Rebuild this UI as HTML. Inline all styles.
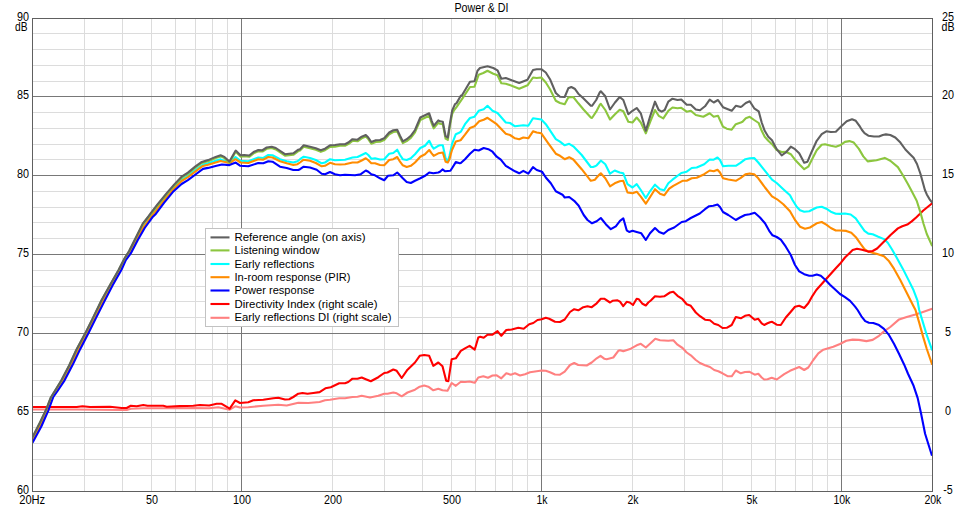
<!DOCTYPE html>
<html><head><meta charset="utf-8"><title>Power &amp; DI</title>
<style>
html,body{margin:0;padding:0;background:#fff;overflow:hidden}
body{width:960px;height:509px;font-family:"Liberation Sans",sans-serif}
svg{display:block}
</style></head><body>
<svg width="960" height="509" viewBox="0 0 960 509">
<rect x="0" y="0" width="960" height="509" fill="#fff"/>
<g stroke="#dcdcdc" stroke-width="1" shape-rendering="crispEdges">
<line x1="32.5" x2="932.5" y1="475.5" y2="475.5"/>
<line x1="32.5" x2="932.5" y1="459.5" y2="459.5"/>
<line x1="32.5" x2="932.5" y1="443.5" y2="443.5"/>
<line x1="32.5" x2="932.5" y1="427.5" y2="427.5"/>
<line x1="32.5" x2="932.5" y1="396.5" y2="396.5"/>
<line x1="32.5" x2="932.5" y1="380.5" y2="380.5"/>
<line x1="32.5" x2="932.5" y1="364.5" y2="364.5"/>
<line x1="32.5" x2="932.5" y1="349.5" y2="349.5"/>
<line x1="32.5" x2="932.5" y1="317.5" y2="317.5"/>
<line x1="32.5" x2="932.5" y1="301.5" y2="301.5"/>
<line x1="32.5" x2="932.5" y1="286.5" y2="286.5"/>
<line x1="32.5" x2="932.5" y1="270.5" y2="270.5"/>
<line x1="32.5" x2="932.5" y1="238.5" y2="238.5"/>
<line x1="32.5" x2="932.5" y1="222.5" y2="222.5"/>
<line x1="32.5" x2="932.5" y1="207.5" y2="207.5"/>
<line x1="32.5" x2="932.5" y1="191.5" y2="191.5"/>
<line x1="32.5" x2="932.5" y1="159.5" y2="159.5"/>
<line x1="32.5" x2="932.5" y1="144.5" y2="144.5"/>
<line x1="32.5" x2="932.5" y1="128.5" y2="128.5"/>
<line x1="32.5" x2="932.5" y1="112.5" y2="112.5"/>
<line x1="32.5" x2="932.5" y1="81.5" y2="81.5"/>
<line x1="32.5" x2="932.5" y1="65.5" y2="65.5"/>
<line x1="32.5" x2="932.5" y1="49.5" y2="49.5"/>
<line x1="32.5" x2="932.5" y1="33.5" y2="33.5"/>
<line x1="84.5" x2="84.5" y1="18.5" y2="491.5"/>
<line x1="122.5" x2="122.5" y1="18.5" y2="491.5"/>
<line x1="151.5" x2="151.5" y1="18.5" y2="491.5"/>
<line x1="175.5" x2="175.5" y1="18.5" y2="491.5"/>
<line x1="195.5" x2="195.5" y1="18.5" y2="491.5"/>
<line x1="212.5" x2="212.5" y1="18.5" y2="491.5"/>
<line x1="227.5" x2="227.5" y1="18.5" y2="491.5"/>
<line x1="332.5" x2="332.5" y1="18.5" y2="491.5"/>
<line x1="384.5" x2="384.5" y1="18.5" y2="491.5"/>
<line x1="422.5" x2="422.5" y1="18.5" y2="491.5"/>
<line x1="451.5" x2="451.5" y1="18.5" y2="491.5"/>
<line x1="475.5" x2="475.5" y1="18.5" y2="491.5"/>
<line x1="495.5" x2="495.5" y1="18.5" y2="491.5"/>
<line x1="512.5" x2="512.5" y1="18.5" y2="491.5"/>
<line x1="527.5" x2="527.5" y1="18.5" y2="491.5"/>
<line x1="632.5" x2="632.5" y1="18.5" y2="491.5"/>
<line x1="684.5" x2="684.5" y1="18.5" y2="491.5"/>
<line x1="722.5" x2="722.5" y1="18.5" y2="491.5"/>
<line x1="751.5" x2="751.5" y1="18.5" y2="491.5"/>
<line x1="775.5" x2="775.5" y1="18.5" y2="491.5"/>
<line x1="795.5" x2="795.5" y1="18.5" y2="491.5"/>
<line x1="812.5" x2="812.5" y1="18.5" y2="491.5"/>
<line x1="827.5" x2="827.5" y1="18.5" y2="491.5"/>
</g>
<g stroke="#787878" stroke-width="1" shape-rendering="crispEdges">
<line x1="32.5" x2="932.5" y1="412.5" y2="412.5"/>
<line x1="32.5" x2="932.5" y1="333.5" y2="333.5"/>
<line x1="32.5" x2="932.5" y1="254.5" y2="254.5"/>
<line x1="32.5" x2="932.5" y1="175.5" y2="175.5"/>
<line x1="32.5" x2="932.5" y1="96.5" y2="96.5"/>
<line x1="241.5" x2="241.5" y1="18.5" y2="491.5"/>
<line x1="541.5" x2="541.5" y1="18.5" y2="491.5"/>
<line x1="841.5" x2="841.5" y1="18.5" y2="491.5"/>
</g>
<clipPath id="cp"><rect x="32" y="18" width="901" height="474"/></clipPath>
<g fill="none" stroke-width="2.1" stroke-linejoin="round" stroke-linecap="butt" clip-path="url(#cp)">
<polyline stroke="#ff8080" points="32.5,409.5 76.7,409.5 121.7,410.0 126.7,410.0 130.8,408.7 143.3,408.3 179.7,408.3 193.3,408.0 209.2,408.3 218.3,407.2 229.7,409.7 235.3,406.3 240.0,407.5 248.3,407.2 263.3,405.8 278.3,404.7 286.7,405.5 298.3,402.8 308.3,403.0 319.6,402.0 325.0,400.3 330.0,399.7 339.2,398.3 345.0,398.3 352.5,397.0 357.5,396.7 361.7,395.8 370.0,397.5 378.3,395.8 384.2,393.7 387.5,393.7 393.3,392.5 396.7,393.3 401.7,396.3 407.5,392.5 415.0,389.7 419.7,386.7 424.2,385.5 428.3,386.7 433.3,390.3 438.3,388.7 442.5,390.3 447.5,390.8 451.7,383.0 455.8,385.8 460.8,381.7 465.0,382.0 469.6,381.5 474.7,382.8 478.3,377.5 483.3,376.2 488.0,377.8 492.5,375.5 496.7,375.3 501.3,378.3 506.3,373.3 510.8,374.7 515.0,373.3 520.0,375.5 525.0,374.2 530.0,372.2 536.7,371.2 541.7,370.5 545.8,370.8 550.0,372.2 555.0,374.5 560.0,374.7 564.7,371.7 570.0,365.0 574.2,363.0 578.3,365.0 586.7,365.5 591.7,362.5 596.7,358.3 600.5,355.8 604.2,358.7 606.7,359.2 613.3,357.5 618.3,350.8 620.0,350.2 623.3,351.2 630.8,348.7 636.7,345.3 640.8,343.8 645.8,347.5 650.8,343.0 655.3,338.8 660.0,340.3 668.3,340.8 673.3,340.3 677.5,344.7 682.5,348.0 686.7,352.5 690.8,355.3 695.8,360.0 700.0,363.0 705.0,365.3 710.0,367.0 714.2,370.0 718.3,371.2 722.5,373.3 727.5,376.2 731.7,376.3 735.8,370.5 740.8,373.3 745.0,372.0 749.2,371.7 754.7,374.7 758.3,373.7 761.7,377.5 764.2,379.5 767.5,379.2 771.7,377.8 776.7,379.5 784.2,374.2 790.0,370.8 799.2,367.0 804.2,370.0 808.3,367.5 813.3,360.0 818.3,353.3 823.3,349.7 833.3,346.7 840.0,344.0 846.3,340.8 852.6,339.6 858.9,339.9 866.4,341.1 872.7,339.9 879.0,335.8 884.0,331.4 890.3,327.0 899.1,319.4 906.7,316.9 915.5,314.4 923.0,311.9 932.2,308.7"/>
<polyline stroke="#00ffff" points="32.5,439.6 40.1,424.9 41.3,422.5 46.4,411.4 48.2,407.0 50.8,400.1 53.3,394.9 54.5,393.1 57.2,389.0 61.4,382.3 64.6,376.8 69.0,368.4 72.8,360.5 76.5,352.6 80.3,345.2 85.8,334.8 88.9,328.7 92.7,321.0 95.8,314.7 101.5,303.1 104.0,298.4 110.3,286.8 112.8,282.2 118.7,271.9 121.5,266.6 124.6,260.1 125.8,257.9 129.0,253.2 130.9,249.9 135.3,241.3 137.8,236.3 142.8,226.8 144.7,224.0 148.0,219.7 150.2,216.6 152.9,213.0 155.8,209.6 157.7,207.1 164.0,199.1 166.5,196.1 172.8,188.6 174.1,187.3 181.6,179.7 187.9,175.8 195.5,169.8 201.8,165.3 203.0,164.6 208.1,163.3 215.6,160.8 220.6,159.3 221.7,160.0 229.7,162.0 235.5,157.0 240.5,160.8 248.3,161.2 258.3,157.5 263.3,158.0 268.3,155.0 272.5,155.3 280.0,159.2 286.7,161.2 293.3,162.5 297.5,161.2 300.0,159.2 303.7,156.7 310.0,158.0 315.8,160.0 321.7,163.3 325.0,162.5 330.0,159.2 335.0,160.3 345.0,159.7 352.5,157.5 357.5,157.0 361.7,155.0 365.8,153.0 368.3,155.0 371.3,158.7 375.0,158.3 380.0,159.5 384.2,159.2 389.2,153.7 393.3,153.0 397.2,149.7 400.0,155.0 402.8,159.2 406.7,160.0 410.8,158.3 415.0,154.2 420.3,148.0 425.0,145.8 429.2,140.8 431.7,145.8 433.7,148.7 438.3,145.8 440.0,145.3 442.8,145.2 445.6,158.3 447.8,161.2 449.5,155.8 450.8,150.0 452.0,144.2 455.8,134.2 459.7,132.5 460.8,131.7 465.0,124.2 470.0,118.0 474.5,116.7 478.7,110.8 483.7,109.2 487.5,105.8 492.5,110.8 497.5,113.0 505.8,122.5 510.0,123.0 515.0,126.3 523.3,125.3 528.3,125.8 533.0,118.3 541.3,119.5 545.8,124.2 555.8,139.2 560.0,141.7 564.7,145.3 569.2,143.8 573.3,146.3 581.7,155.0 590.8,167.0 593.0,167.0 595.0,166.3 596.7,165.3 599.7,162.0 600.8,160.5 605.3,164.2 610.0,173.7 614.7,170.5 619.7,172.5 623.3,173.3 627.5,184.2 632.5,187.5 636.7,184.2 640.8,190.0 645.8,198.0 650.3,190.8 655.0,184.7 660.0,189.2 664.2,190.3 668.3,183.3 672.5,179.7 681.3,173.0 686.7,171.7 691.7,168.0 696.7,167.5 704.2,164.2 709.7,159.5 713.7,159.7 717.5,157.5 720.0,160.0 723.0,166.3 728.3,165.8 735.8,165.8 740.4,162.9 745.4,159.2 749.7,158.2 754.2,158.0 758.3,162.5 765.0,170.8 772.0,179.7 776.7,183.0 783.3,189.2 790.0,195.3 792.5,200.0 796.7,206.7 800.0,210.3 804.2,211.7 809.2,211.3 816.7,207.5 821.7,206.7 826.3,208.7 830.8,211.7 835.8,213.7 840.0,213.9 845.0,213.5 850.7,214.5 855.7,218.3 860.1,224.6 864.5,230.9 868.3,233.6 872.7,234.3 877.7,236.5 884.0,239.1 887.8,242.8 891.9,249.2 896.6,257.5 902.9,268.9 909.2,281.4 913.6,290.3 917.4,300.3 919.2,310.0 923.0,322.6 926.8,335.2 932.2,350.3"/>
<polyline stroke="#ff8c00" points="32.5,440.6 40.1,426.1 41.3,423.7 46.4,412.5 48.2,408.2 50.8,401.2 53.3,395.5 54.5,393.7 57.2,389.7 61.4,383.2 64.6,377.9 69.0,369.4 72.8,361.8 76.5,353.9 80.3,346.3 85.8,335.9 88.9,329.8 92.7,322.1 95.8,315.8 101.5,304.3 104.0,299.6 110.3,287.8 112.8,283.1 118.7,272.8 121.5,267.6 124.6,261.0 125.8,258.6 129.0,254.0 130.9,250.9 135.3,242.3 137.8,237.5 142.8,228.2 144.7,225.3 148.0,220.9 150.2,217.8 152.9,214.2 155.8,211.0 157.7,208.4 164.0,200.3 166.5,197.2 172.8,189.7 174.1,188.4 181.6,181.0 187.9,177.2 195.5,171.3 201.8,166.7 203.0,165.9 208.1,164.7 215.6,162.4 220.6,161.0 221.7,161.3 229.7,163.0 235.5,159.2 240.5,162.5 248.3,163.0 258.3,159.2 263.3,159.7 268.3,157.0 272.5,157.5 280.0,161.3 286.7,163.3 293.3,165.0 297.5,164.2 300.0,162.5 303.7,159.7 310.0,160.8 315.8,163.0 321.7,166.3 325.0,165.8 330.0,162.8 335.0,164.2 340.0,164.5 345.0,164.2 352.5,162.5 357.5,162.5 361.7,160.5 365.8,158.3 368.3,160.3 371.3,163.3 375.0,163.3 380.0,165.0 384.2,165.3 389.2,160.0 393.3,159.2 397.2,157.0 400.0,161.7 402.8,165.3 406.7,167.0 410.8,165.8 415.0,162.5 420.3,156.7 425.0,154.2 429.2,150.0 431.7,153.3 433.7,155.8 438.3,153.3 440.0,153.0 442.8,152.5 445.6,161.8 447.8,162.5 449.5,159.2 450.8,154.2 452.0,150.0 455.8,141.5 459.7,140.5 460.8,140.0 465.0,134.7 470.0,128.0 474.5,126.3 479.2,121.3 483.7,119.7 487.5,117.8 496.7,124.2 505.8,133.7 510.0,135.0 515.0,138.3 519.2,139.2 523.3,137.5 528.3,138.3 533.0,131.3 536.7,132.5 541.3,133.3 548.3,143.3 555.8,153.7 560.0,155.8 564.7,159.2 569.2,157.2 573.3,159.5 581.7,169.2 590.8,180.8 593.0,180.3 595.0,179.7 596.7,177.5 599.7,174.2 600.8,173.3 605.3,178.3 610.0,186.3 614.7,183.3 619.7,181.3 623.3,180.8 627.5,192.5 632.5,193.3 636.7,191.7 640.8,196.7 645.8,203.7 650.3,196.7 655.0,189.2 660.0,193.8 664.2,195.3 669.2,188.7 673.3,185.8 682.5,180.8 686.7,180.8 691.7,178.3 696.7,177.8 704.2,174.2 709.7,170.5 713.7,171.2 717.5,169.7 720.0,172.5 723.0,178.3 728.3,179.5 735.8,180.8 740.4,178.2 745.4,174.4 749.7,173.5 754.2,174.2 758.3,178.3 765.0,187.5 772.0,196.3 777.1,199.3 783.3,204.2 790.0,211.3 795.0,220.0 800.0,226.7 805.0,228.7 810.0,227.5 816.7,223.3 821.7,222.0 826.3,224.7 830.8,228.0 835.8,230.5 840.0,230.5 846.3,230.9 851.3,232.8 856.4,237.8 860.8,244.1 864.5,249.1 868.3,251.6 873.3,253.0 876.5,253.8 884.0,256.3 889.1,261.3 894.1,268.9 900.4,280.2 906.7,292.8 913.0,305.3 915.5,310.0 919.2,322.6 923.0,336.4 926.8,349.0 932.2,364.7"/>
<polyline stroke="#ff0000" points="32.5,407.0 76.7,407.0 82.5,406.2 90.0,407.0 110.0,406.7 121.7,408.0 126.7,408.0 130.8,405.8 136.7,406.2 143.3,405.0 147.5,405.8 163.3,405.8 166.7,406.7 179.8,406.1 193.3,405.8 200.0,405.0 209.2,405.5 216.7,403.8 221.7,403.8 229.7,408.7 235.3,400.3 240.0,403.0 248.3,402.2 253.3,400.3 263.3,399.7 273.3,398.3 278.3,397.8 285.0,399.5 289.2,399.2 293.3,397.0 298.3,393.7 302.5,393.0 307.5,393.8 313.3,393.0 319.6,392.1 325.4,388.3 330.8,387.2 339.2,383.3 345.0,383.3 348.3,382.0 352.5,378.7 357.5,378.8 361.7,377.5 365.8,379.2 370.8,381.2 378.3,377.2 384.2,373.0 387.5,372.5 393.3,369.5 396.7,370.8 401.7,378.0 407.5,369.7 415.0,362.5 419.7,355.8 424.2,355.0 429.2,355.8 433.3,365.8 438.3,362.5 442.5,366.3 446.2,380.8 448.3,381.3 451.7,359.2 455.8,358.3 460.8,350.8 465.0,348.3 469.6,345.8 474.7,349.7 478.3,337.5 480.3,336.7 483.7,337.8 487.5,334.7 492.5,334.7 497.5,331.2 501.3,335.8 506.3,330.0 511.7,329.5 518.3,327.8 523.7,328.8 529.2,324.2 533.3,323.0 537.5,320.0 541.7,319.2 545.8,317.8 549.2,318.7 555.0,321.7 560.0,322.0 564.7,319.5 570.0,312.0 574.2,309.2 578.3,310.3 583.3,307.2 587.5,306.2 591.7,307.2 596.7,303.3 600.8,298.7 604.2,298.7 610.0,302.5 612.5,300.8 617.5,300.3 620.0,301.7 623.2,306.2 626.7,301.8 629.7,302.5 633.0,305.0 636.7,298.7 638.7,299.2 642.5,303.8 645.8,305.5 648.3,302.5 650.8,300.5 655.0,296.2 660.0,296.7 664.2,296.3 670.0,292.5 673.3,291.7 677.5,295.8 682.5,299.2 686.7,304.2 690.8,305.8 695.8,312.5 700.0,316.2 705.0,319.7 710.0,320.3 714.2,323.7 718.3,325.0 722.5,328.0 726.7,327.8 731.7,325.0 735.8,317.0 740.8,318.3 745.0,315.8 749.2,315.0 754.7,319.7 758.3,318.8 761.7,323.3 764.2,325.0 767.5,323.3 770.0,322.2 772.1,321.8 776.7,324.7 780.8,325.0 785.8,317.5 790.8,311.7 795.0,306.7 799.2,305.8 804.2,308.0 808.3,303.3 812.5,295.8 816.3,290.0 835.8,268.3 840.0,263.8 845.0,257.5 850.7,251.9 852.6,250.1 857.0,248.7 862.0,249.7 868.3,251.6 872.7,251.0 877.1,248.5 882.8,242.8 890.3,235.3 897.9,228.4 902.3,226.2 907.3,224.6 911.7,221.4 916.7,217.0 923.0,210.8 932.2,203.2"/>
<polyline stroke="#0000ff" points="32.5,442.8 41.3,426.5 48.2,410.8 53.3,396.9 57.2,391.5 64.6,380.3 72.8,364.6 80.3,348.9 88.9,332.3 95.8,318.4 104.0,302.1 112.8,285.1 121.5,269.8 125.8,260.1 130.9,253.2 137.8,240.0 144.7,228.0 152.9,216.7 155.8,213.9 164.0,202.8 172.8,192.1 181.6,184.0 187.9,180.2 195.5,174.5 203.0,168.9 208.1,167.9 215.6,166.1 221.9,164.5 229.4,165.1 235.7,162.6 240.0,165.7 248.3,166.2 258.3,163.0 263.3,163.3 268.3,161.2 272.5,161.7 280.0,166.7 286.7,168.0 293.3,170.0 298.3,170.0 300.0,169.2 303.7,166.7 310.0,167.5 316.7,169.7 321.7,173.7 325.0,174.2 330.0,172.0 335.0,174.2 340.0,175.3 345.0,174.7 350.0,175.0 355.0,175.3 360.8,174.2 365.8,170.5 368.3,171.7 371.3,174.2 375.0,175.3 380.0,178.3 384.2,180.3 388.0,175.8 393.3,175.3 397.2,172.5 400.0,175.3 402.8,178.3 406.7,182.0 410.8,183.0 415.0,180.8 420.3,178.3 425.0,175.8 429.2,172.5 433.3,173.3 438.3,172.5 440.0,171.7 442.5,169.4 445.2,171.3 450.4,170.8 452.5,167.5 455.8,162.1 459.7,163.3 460.8,163.0 465.0,159.2 470.0,153.7 474.5,149.7 478.7,150.5 483.7,148.0 488.3,149.2 492.5,151.7 496.7,156.7 500.8,159.7 505.8,165.8 510.0,168.3 515.0,171.3 519.2,173.3 523.3,170.8 528.3,173.7 533.0,167.2 536.7,170.0 542.0,171.7 545.8,177.5 550.8,183.3 555.8,191.3 562.5,194.7 564.7,197.5 569.2,197.0 574.2,200.8 578.7,205.8 583.7,215.0 587.5,220.0 592.0,223.3 596.7,221.3 600.8,218.0 605.8,224.2 610.8,229.2 615.8,226.3 620.0,220.8 623.3,218.3 626.7,230.3 629.2,232.0 632.5,230.8 636.7,232.0 641.3,233.3 645.8,240.0 650.0,233.3 655.0,228.0 659.2,232.0 663.7,233.8 668.3,230.0 674.2,227.5 681.7,222.0 685.8,221.2 690.8,218.0 699.8,213.5 705.0,209.2 709.2,206.2 713.3,205.8 717.5,204.5 720.0,207.0 723.0,212.0 728.3,215.0 735.8,220.0 740.0,217.5 745.0,215.0 749.7,214.2 754.7,212.8 760.0,217.5 765.0,223.3 769.2,230.8 772.5,235.3 776.7,237.0 780.8,239.7 785.8,246.7 790.8,255.0 795.0,265.0 799.2,271.3 804.2,274.2 809.2,275.8 812.5,275.8 816.7,274.5 820.8,275.8 825.8,280.3 830.0,284.7 840.0,294.0 845.0,297.2 850.1,300.9 855.1,306.6 857.6,310.0 861.4,316.3 865.2,321.1 868.9,322.8 873.3,323.0 879.0,325.1 884.0,328.9 889.1,335.2 894.1,344.0 899.1,354.0 904.2,364.7 907.9,373.5 913.6,385.8 917.7,398.1 920.9,412.8 925.1,433.7 932.0,455.8"/>
<polyline stroke="#8cc63f" points="32.5,437.5 40.1,422.4 46.4,409.2 50.8,397.8 54.5,391.8 61.4,380.6 69.0,366.1 76.5,349.8 85.8,332.6 92.7,318.7 101.5,300.5 110.3,284.8 118.7,270.1 124.6,258.5 129.0,251.6 135.3,239.0 142.8,223.9 148.0,217.3 150.2,214.8 157.7,205.0 166.5,194.4 174.1,185.6 181.6,177.7 187.9,173.7 195.5,167.4 201.8,163.0 208.1,161.2 215.6,158.0 220.6,156.4 224.4,158.1 229.4,162.8 235.7,151.8 240.5,156.6 244.2,156.2 249.2,156.8 254.2,152.9 258.3,151.3 262.5,151.5 266.7,148.8 271.7,148.0 275.8,149.4 285.0,155.6 293.3,154.8 298.3,151.1 300.0,150.6 303.7,146.8 310.0,148.2 315.8,149.8 320.8,151.9 325.0,150.2 330.0,146.9 335.0,146.6 340.0,145.8 345.0,145.8 348.3,144.1 352.5,140.8 357.5,141.3 361.7,138.3 365.8,136.6 368.3,139.1 371.3,143.7 375.8,142.0 380.0,141.7 384.2,140.0 389.2,134.2 393.3,132.0 397.2,131.4 400.0,137.5 402.8,143.1 406.7,141.1 410.8,138.0 415.0,132.3 420.3,120.0 425.0,117.8 429.2,115.8 431.7,123.3 433.7,128.3 438.3,122.8 440.0,123.8 442.8,124.3 445.6,138.7 447.8,139.9 449.8,126.6 452.2,113.7 454.2,110.0 456.5,107.2 462.5,98.3 470.0,87.0 474.5,86.7 478.7,74.7 483.3,73.0 487.5,70.8 493.3,73.7 497.5,75.3 501.3,83.3 505.8,83.7 511.7,85.8 519.2,88.7 527.5,85.3 533.0,77.5 536.7,78.0 541.3,77.5 545.8,82.5 550.0,89.2 555.8,100.8 560.0,103.0 564.7,104.2 568.3,97.5 573.3,97.0 578.3,103.3 583.3,109.2 590.8,117.5 592.0,118.0 596.2,111.7 599.7,105.0 600.8,103.8 605.3,110.0 610.0,119.5 615.0,114.2 619.7,109.7 623.3,111.3 628.3,121.7 632.5,122.5 636.7,117.5 640.8,122.5 645.8,133.3 650.3,121.7 655.0,110.0 658.7,115.8 663.3,118.3 668.3,110.8 672.5,107.5 677.5,108.3 681.3,107.8 686.7,111.7 690.8,110.8 695.8,115.0 703.3,116.7 709.7,113.3 713.7,116.7 718.0,115.8 723.0,126.7 726.7,128.7 731.7,129.7 735.8,124.2 740.8,122.5 742.5,121.7 745.8,118.2 749.7,116.8 754.2,120.0 758.7,123.0 761.7,130.8 764.7,136.7 768.3,140.8 772.0,144.2 776.7,150.0 781.7,152.0 785.8,151.7 790.8,154.2 795.0,159.7 800.0,165.0 804.2,169.2 808.3,166.7 811.7,160.0 816.7,150.3 821.7,144.7 825.0,144.2 830.8,145.8 835.8,146.7 840.0,145.3 845.0,141.9 849.4,141.1 853.8,142.6 858.9,148.9 863.3,156.4 867.7,161.4 876.5,160.2 884.7,157.9 890.3,160.8 897.9,167.1 902.9,175.3 907.9,184.1 911.1,190.0 916.7,200.7 920.5,212.6 923.6,224.0 926.8,234.0 932.2,246.0"/>
<polyline stroke="#606060" points="32.5,437.2 40.1,422.1 46.4,408.9 50.8,397.5 54.5,391.5 61.4,380.3 69.0,365.8 76.5,349.5 85.8,332.3 92.7,318.4 101.5,300.2 110.3,284.5 118.7,269.8 124.6,258.2 129.0,251.3 135.3,238.7 142.8,223.6 148.0,217.0 150.2,213.9 157.7,204.1 166.5,193.4 174.1,184.6 181.6,176.7 187.9,172.6 195.5,166.4 201.8,161.9 208.1,160.1 215.6,156.9 220.6,155.3 224.4,156.9 229.4,161.6 235.7,150.6 240.5,155.3 244.2,155.0 249.2,155.5 254.2,151.7 258.3,150.0 262.5,150.2 266.7,147.5 271.7,146.7 275.8,148.0 285.0,154.2 293.3,153.3 298.3,149.7 300.0,149.2 303.7,145.3 310.0,146.7 315.8,148.3 320.8,150.3 325.0,148.7 330.0,145.3 335.0,145.0 340.0,144.2 345.0,144.2 348.3,142.5 352.5,139.2 357.5,139.7 361.7,136.7 365.8,135.0 368.3,137.5 371.3,142.0 375.8,140.3 380.0,140.0 384.2,138.3 389.2,132.5 393.3,130.3 397.2,129.7 400.0,135.8 402.8,141.3 406.7,139.2 410.8,135.8 415.0,130.0 420.3,117.5 425.0,115.3 429.2,113.3 431.7,120.8 433.7,125.8 438.3,120.3 440.0,121.3 442.8,121.8 445.6,136.2 447.8,137.5 449.8,124.2 452.2,110.4 455.0,104.2 456.4,103.4 460.8,95.8 462.0,95.3 470.0,81.7 474.5,81.3 477.5,70.8 480.0,68.0 487.5,66.3 493.3,68.0 497.5,70.3 501.3,78.7 505.8,78.0 511.7,80.3 519.2,83.0 527.5,79.7 533.0,70.0 536.7,69.2 541.3,69.2 545.8,72.5 550.0,79.2 555.8,93.0 560.0,96.7 564.7,97.0 568.3,88.3 571.3,87.0 574.7,88.7 578.3,93.7 583.3,98.3 590.8,105.8 592.0,105.8 596.2,100.0 599.7,92.5 600.8,91.3 605.3,96.3 610.0,109.5 615.0,102.5 619.7,97.0 623.3,100.0 628.3,114.2 632.5,110.8 636.7,108.0 640.8,113.3 645.8,130.8 650.3,115.8 655.0,101.7 658.7,110.0 661.7,111.7 664.7,110.0 668.3,101.7 672.5,98.7 677.5,100.0 681.3,99.5 686.7,104.7 690.8,104.7 695.8,109.5 700.0,110.3 705.0,106.3 709.7,99.7 713.7,102.5 718.0,100.0 723.0,107.2 726.7,108.7 731.7,110.8 735.8,105.8 740.8,107.0 742.5,105.8 745.8,103.0 749.7,101.3 754.2,108.3 758.7,111.3 761.7,122.5 764.7,130.8 768.3,136.7 772.0,140.3 776.7,149.2 781.7,155.3 785.8,152.5 790.8,146.7 795.0,149.2 799.2,153.3 804.2,162.8 807.5,161.7 811.7,151.7 816.7,140.8 821.7,134.2 826.3,131.3 830.8,132.0 835.8,131.7 841.3,126.3 846.7,121.3 852.0,119.2 855.8,120.8 860.0,126.7 862.0,130.0 864.5,133.1 868.3,135.7 874.0,136.5 879.0,136.5 882.8,135.0 885.9,134.4 890.3,135.0 895.3,137.5 900.4,142.6 905.4,149.5 909.8,153.9 913.6,157.7 917.0,164.0 920.5,174.0 923.6,185.3 924.9,190.0 926.8,194.4 929.3,198.8 932.2,202.6"/>
</g>
<rect x="32.5" y="18.5" width="900.0" height="473.0" fill="none" stroke="#606060" shape-rendering="crispEdges"/>
<g font-family="Liberation Sans, sans-serif" font-size="12" fill="#000">
<text x="481.5" y="12" text-anchor="middle" textLength="54" lengthAdjust="spacingAndGlyphs">Power &amp; DI</text>
<text x="23" y="494.0" text-anchor="middle" textLength="12" lengthAdjust="spacingAndGlyphs">60</text>
<text x="23" y="415.0" text-anchor="middle" textLength="12" lengthAdjust="spacingAndGlyphs">65</text>
<text x="23" y="336.0" text-anchor="middle" textLength="12" lengthAdjust="spacingAndGlyphs">70</text>
<text x="23" y="257.0" text-anchor="middle" textLength="12" lengthAdjust="spacingAndGlyphs">75</text>
<text x="23" y="178.0" text-anchor="middle" textLength="12" lengthAdjust="spacingAndGlyphs">80</text>
<text x="23" y="99.0" text-anchor="middle" textLength="12" lengthAdjust="spacingAndGlyphs">85</text>
<text x="23" y="20.8" text-anchor="middle" textLength="12" lengthAdjust="spacingAndGlyphs">90</text>
<text x="21.3" y="30.8" text-anchor="middle" textLength="12.5" lengthAdjust="spacingAndGlyphs">dB</text>
<text x="948" y="494.0" text-anchor="middle" textLength="9.5" lengthAdjust="spacingAndGlyphs">-5</text>
<text x="948" y="415.0" text-anchor="middle" textLength="6" lengthAdjust="spacingAndGlyphs">0</text>
<text x="948" y="336.0" text-anchor="middle" textLength="6" lengthAdjust="spacingAndGlyphs">5</text>
<text x="948" y="257.0" text-anchor="middle" textLength="12" lengthAdjust="spacingAndGlyphs">10</text>
<text x="948" y="178.0" text-anchor="middle" textLength="12" lengthAdjust="spacingAndGlyphs">15</text>
<text x="948" y="99.0" text-anchor="middle" textLength="12" lengthAdjust="spacingAndGlyphs">20</text>
<text x="948" y="20.8" text-anchor="middle" textLength="12" lengthAdjust="spacingAndGlyphs">25</text>
<text x="948" y="30.8" text-anchor="middle" textLength="13" lengthAdjust="spacingAndGlyphs">dB</text>
<text x="32.2" y="504" text-anchor="middle" textLength="26" lengthAdjust="spacingAndGlyphs">20Hz</text>
<text x="151.9" y="504" text-anchor="middle" textLength="12" lengthAdjust="spacingAndGlyphs">50</text>
<text x="241.9" y="504" text-anchor="middle" textLength="18" lengthAdjust="spacingAndGlyphs">100</text>
<text x="332.9" y="504" text-anchor="middle" textLength="18" lengthAdjust="spacingAndGlyphs">200</text>
<text x="451.9" y="504" text-anchor="middle" textLength="18" lengthAdjust="spacingAndGlyphs">500</text>
<text x="541.9" y="504" text-anchor="middle" textLength="11" lengthAdjust="spacingAndGlyphs">1k</text>
<text x="632.9" y="504" text-anchor="middle" textLength="11" lengthAdjust="spacingAndGlyphs">2k</text>
<text x="751.9" y="504" text-anchor="middle" textLength="11" lengthAdjust="spacingAndGlyphs">5k</text>
<text x="841.9" y="504" text-anchor="middle" textLength="17" lengthAdjust="spacingAndGlyphs">10k</text>
<text x="932.9" y="504" text-anchor="middle" textLength="17" lengthAdjust="spacingAndGlyphs">20k</text>
</g>
<rect x="205.5" y="228.5" width="193.0" height="98.0" fill="#fff" stroke="#c2c2c2" shape-rendering="crispEdges"/>
<g font-family="Liberation Sans, sans-serif" font-size="11.5" fill="#000">
<line x1="210.5" x2="229.5" y1="237.4" y2="237.4" stroke="#606060" stroke-width="2.1"/>
<text x="234.5" y="240.9" textLength="131" lengthAdjust="spacingAndGlyphs">Reference angle (on axis)</text>
<line x1="210.5" x2="229.5" y1="250.4" y2="250.4" stroke="#8cc63f" stroke-width="2.1"/>
<text x="234.5" y="253.9" textLength="85" lengthAdjust="spacingAndGlyphs">Listening window</text>
<line x1="210.5" x2="229.5" y1="264.0" y2="264.0" stroke="#00ffff" stroke-width="2.1"/>
<text x="234.5" y="267.5" textLength="80" lengthAdjust="spacingAndGlyphs">Early reflections</text>
<line x1="210.5" x2="229.5" y1="277.2" y2="277.2" stroke="#ff8c00" stroke-width="2.1"/>
<text x="234.5" y="280.7" textLength="116" lengthAdjust="spacingAndGlyphs">In-room response (PIR)</text>
<line x1="210.5" x2="229.5" y1="290.5" y2="290.5" stroke="#0000ff" stroke-width="2.1"/>
<text x="234.5" y="294.0" textLength="80" lengthAdjust="spacingAndGlyphs">Power response</text>
<line x1="210.5" x2="229.5" y1="304.0" y2="304.0" stroke="#ff0000" stroke-width="2.1"/>
<text x="234.5" y="307.5" textLength="143" lengthAdjust="spacingAndGlyphs">Directivity Index (right scale)</text>
<line x1="210.5" x2="229.5" y1="317.8" y2="317.8" stroke="#ff8080" stroke-width="2.1"/>
<text x="234.5" y="321.3" textLength="157" lengthAdjust="spacingAndGlyphs">Early reflections DI (right scale)</text>
</g>
</svg>
</body></html>
